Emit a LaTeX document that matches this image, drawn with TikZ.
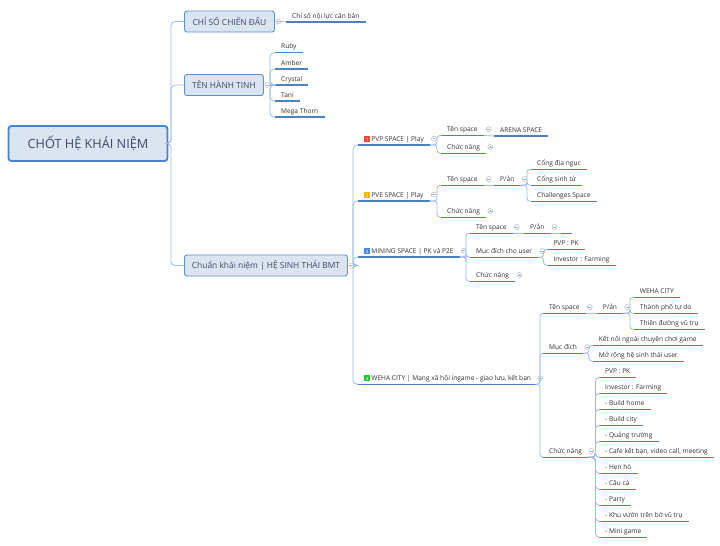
\documentclass[tikz,border=0pt]{standalone}
\usepackage{fontspec}
\setmainfont{Open Sans}
\definecolor{boxfill}{HTML}{DBE5F1}
\definecolor{boxdraw}{HTML}{5B8FD3}
\definecolor{rootdraw}{HTML}{4A7FCB}
\definecolor{boxtext}{HTML}{3B4B63}
\definecolor{conncol}{HTML}{9DBCE6}
\definecolor{ulcol}{HTML}{4F81BD}
\definecolor{leaftext}{HTML}{333333}
\definecolor{collcol}{HTML}{AAB4C4}
\definecolor{bred}{HTML}{E8473B}
\definecolor{borange}{HTML}{F5B400}
\definecolor{bblue}{HTML}{4A86E8}
\definecolor{bgreen}{HTML}{27C23A}
\newcommand\bdg[2]{{\setlength\fboxsep{0pt}\colorbox{#1}{\makebox[6pt]{\rule[-0.5pt]{0pt}{6.2pt}\fontsize{4.5}{5}\selectfont\textcolor{white}{#2}}}}\hspace{1.2pt}}
\tikzset{
  rootbox/.style={draw=rootdraw, line width=1.8pt, fill=boxfill, rounded corners=3pt, text=boxtext,
    font=\fontsize{12.7}{14}\selectfont, minimum height=35pt, minimum width=159pt, inner xsep=0pt},
  lbox/.style={draw=boxdraw, line width=0.9pt, fill=boxfill, rounded corners=2.5pt, text=boxtext,
    font=\fontsize{8.4}{10}\selectfont, minimum height=21pt, inner xsep=0pt, anchor=west},
  leaf/.style={anchor=south west, font=\fontsize{6.6}{8}\selectfont, text=leaftext, inner xsep=6pt,
    inner ysep=2pt, text height=5.2pt, text depth=1.6pt,
    append after command={(\tikzlastnode.south west) edge[uline] (\tikzlastnode.south east)}},
  uline/.style={draw=ulcol, line width=1.1pt},
  conn/.style={draw=conncol, line width=0.8pt, rounded corners=4pt},
  connS/.style={draw=conncol, line width=0.8pt, rounded corners=3pt},
  coll/.style={circle, draw=collcol, line width=0.45pt, minimum size=5pt, inner sep=0pt,
    path picture={\draw[collcol, line width=0.45pt] ([xshift=-1.4pt]path picture bounding box.center) -- ([xshift=1.4pt]path picture bounding box.center);}},
  expd/.style={coll, path picture={\draw[collcol, line width=0.45pt] ([xshift=-1.4pt]path picture bounding box.center) -- ([xshift=1.4pt]path picture bounding box.center) ([yshift=-1.4pt]path picture bounding box.center) -- ([yshift=1.4pt]path picture bounding box.center);}},
}
\begin{document}
\begin{tikzpicture}[x=1pt,y=-1pt]
\useasboundingbox[fill=white] (0,0) rectangle (720,546);
% spine positions
\coordinate (spR) at (171,0);
\coordinate (spB) at (270,0);
\coordinate (spC) at (353,0);
\coordinate (sp1) at (437,0);
\coordinate (sp3) at (466,0);
\coordinate (sp4) at (540,0);
\coordinate (spE) at (527,0);
\coordinate (spM) at (543.5,0);
\coordinate (spW1) at (630,0);
\coordinate (spW2) at (589,0);
\coordinate (spW3) at (595.5,0);
% root and level 1
\node[rootbox] (root) at (88,143.5) {CHỐT HỆ KHÁI NIỆM};
\node[lbox, minimum width=90pt] (A) at (184,21.5) {CHỈ SỐ CHIẾN ĐẤU};
\node[lbox, minimum width=79pt] (B) at (184,85) {TÊN HÀNH TINH};
\node[lbox, minimum width=163pt] (C) at (184,265.5) {Chuẩn khái niệm | HỆ SINH THÁI BMT};
\foreach \n in {A,B,C} \draw[conn] (root.east) -- (root.east -| spR) |- (\n.west);
\node[coll] (cA) at ([xshift=3.5pt]A.east) {};
\node[coll] (cB) at ([xshift=3.5pt]B.east) {};
\node[coll] (cC) at ([xshift=3.5pt]C.east) {};
% A child
\node[leaf] (a1) at (286,22) {Chỉ số nội lực căn bản};
\draw[conn] (cA.east) -- (a1.south west);
% B children
\node[leaf] (b1) at (275,52.7) {Ruby};
\node[leaf] (b2) at (275,69) {Amber};
\node[leaf] (b3) at (275,85) {Crystal};
\node[leaf] (b4) at (275,101) {Tani};
\node[leaf] (b5) at (275,117) {Mega Thorn};
\foreach \n in {b1,b2,b3,b4,b5} \draw[conn] (cB.east) -- (cB.east -| spB) |- (\n.south west);
% C children
\node[leaf] (s1) at (358,145) {\bdg{bred}{1}PVP SPACE | Play};
\node[leaf] (s2) at (358,201) {\bdg{borange}{2}PVE SPACE | Play};
\node[leaf] (s3) at (358,257) {\bdg{bblue}{3}MINING SPACE | PK và P2E};
\node[leaf] (s4) at (358,384.3) {\bdg{bgreen}{4}WEHA CITY | Mạng xã hội ingame - giao lưu, kết bạn};
\foreach \n in {s1,s2,s3,s4} \draw[conn] (cC.east) -- (cC.east -| spC) |- (\n.south west);
% PVP
\node[coll] (cs1) at ([xshift=4pt,yshift=6.3pt]s1.south east) {};
\node[leaf] (p1) at (441,135.5) {Tên space};
\node[leaf] (p2) at (441,153.3) {Chức năng};
\foreach \n in {p1,p2} \draw[connS] (s1.south east) -- (s1.south east -| sp1) |- (\n.south west);
\node[coll] (cp1) at ([xshift=5pt,yshift=6.3pt]p1.south east) {};
\node[expd] (xp2) at ([xshift=4pt,yshift=6.3pt]p2.south east) {};
\node[leaf] (p11) at (494,136) {ARENA SPACE};
\draw[conn] (p1.south east) -- (p11.south west);
% PVE
\node[coll] (cs2) at ([xshift=4pt,yshift=6.3pt]s2.south east) {};
\node[leaf] (e1) at (441,185.3) {Tên space};
\node[leaf] (e2) at (441,217.3) {Chức năng};
\foreach \n in {e1,e2} \draw[connS] (s2.south east) -- (s2.south east -| sp1) |- (\n.south west);
\node[coll] (ce1) at ([xshift=5pt,yshift=6.3pt]e1.south east) {};
\node[expd] (xe2) at ([xshift=4pt,yshift=6.3pt]e2.south east) {};
\node[leaf] (e11) at (494,185.3) {P/ản};
\draw[conn] (e1.south east) -- (e11.south west);
\node[coll] (ce11) at ([xshift=4pt,yshift=6.3pt]e11.south east) {};
\node[leaf] (e111) at (531,169.3) {Cổng địa ngục};
\node[leaf] (e112) at (531,185.3) {Cổng sinh tử};
\node[leaf] (e113) at (531,201.3) {Challenges Space};
\foreach \n in {e111,e112,e113} \draw[connS] (e11.south east) -- (e11.south east -| spE) |- (\n.south west);
% MINING
\node[coll] (cs3) at ([xshift=4pt,yshift=6.3pt]s3.south east) {};
\node[leaf] (m1) at (470,233.3) {Tên space};
\node[leaf] (m2) at (470,257.3) {Mục đích cho user};
\node[leaf] (m3) at (470,281.3) {Chức năng};
\foreach \n in {m1,m2,m3} \draw[connS] (s3.south east) -- (s3.south east -| sp3) |- (\n.south west);
\node[coll] (cm1) at ([xshift=4pt,yshift=6.3pt]m1.south east) {};
\node[coll] (cm2) at ([xshift=4pt,yshift=6.3pt]m2.south east) {};
\node[expd] (xm3) at ([xshift=4pt,yshift=6.3pt]m3.south east) {};
\node[leaf] (m11) at (524,233.3) {P/ản};
\draw[conn] (m1.south east) -- (m11.south west);
\node[coll] (cm11) at ([xshift=4pt,yshift=6.3pt]m11.south east) {};
\node[leaf, minimum width=11pt, inner xsep=0pt] (m111) at (561,233.3) {};
\draw[conn] (m11.south east) -- (m111.south west);
\node[leaf] (m21) at (547.3,249.3) {PVP : PK};
\node[leaf] (m22) at (547.3,265.3) {Investor : Farming};
\foreach \n in {m21,m22} \draw[connS] (m2.south east) -- (m2.south east -| spM) |- (\n.south west);
% WEHA
\node[coll] (cs4) at ([xshift=3pt,yshift=6pt]s4.south east) {};
\node[leaf] (w1) at (543,313.3) {Tên space};
\node[leaf] (w2) at (543,353.3) {Mục đích};
\node[leaf] (w3) at (543,457.3) {Chức năng};
\foreach \n in {w1,w2,w3} \draw[connS] (s4.south east) -- (s4.south east -| sp4) |- (\n.south west);
\node[coll] (cw1) at ([xshift=4pt,yshift=6.3pt]w1.south east) {};
\node[coll] (cw2) at ([xshift=4pt,yshift=6.3pt]w2.south east) {};
\node[coll] (cw3) at ([xshift=3pt,yshift=6.3pt]w3.south east) {};
\node[leaf] (w11) at (596.7,313.3) {P/ản};
\draw[conn] (w1.south east) -- (w11.south west);
\node[coll] (cw11) at ([xshift=4pt,yshift=6.3pt]w11.south east) {};
\node[leaf] (w111) at (633.7,297.3) {WEHA CITY};
\node[leaf] (w112) at (633.7,313.3) {Thành phố tự do};
\node[leaf] (w113) at (633.7,329.3) {Thiên đường vũ trụ};
\foreach \n in {w111,w112,w113} \draw[connS] (w11.south east) -- (w11.south east -| spW1) |- (\n.south west);
\node[leaf] (w21) at (592.7,345.3) {Kết nối ngoài chuyện chơi game};
\node[leaf] (w22) at (592.7,361.3) {Mở rộng hệ sinh thái user};
\foreach \n in {w21,w22} \draw[connS] (w2.south east) -- (w2.south east -| spW2) |- (\n.south west);
\node[leaf] (w31) at (599,377.3) {PVP : PK};
\node[leaf] (w32) at (599,393.3) {Investor : Farming};
\node[leaf] (w33) at (599,409.3) {- Build home};
\node[leaf] (w34) at (599,425.3) {- Build city};
\node[leaf] (w35) at (599,441.3) {- Quảng trường};
\node[leaf] (w36) at (599,457.3) {- Cafe kết bạn, video call, meeting};
\node[leaf] (w37) at (599,473.3) {- Hẹn hò};
\node[leaf] (w38) at (599,489.3) {- Câu cá};
\node[leaf] (w39) at (599,505.3) {- Party};
\node[leaf] (w310) at (599,521.3) {- Khu vườn trên bờ vũ trụ};
\node[leaf] (w311) at (599,537.3) {- Mini game};
\foreach \n in {w31,w32,w33,w34,w35,w36,w37,w38,w39,w310,w311} \draw[conn] (w3.south east) -- (w3.south east -| spW3) |- (\n.south west);
\end{tikzpicture}
\end{document}
